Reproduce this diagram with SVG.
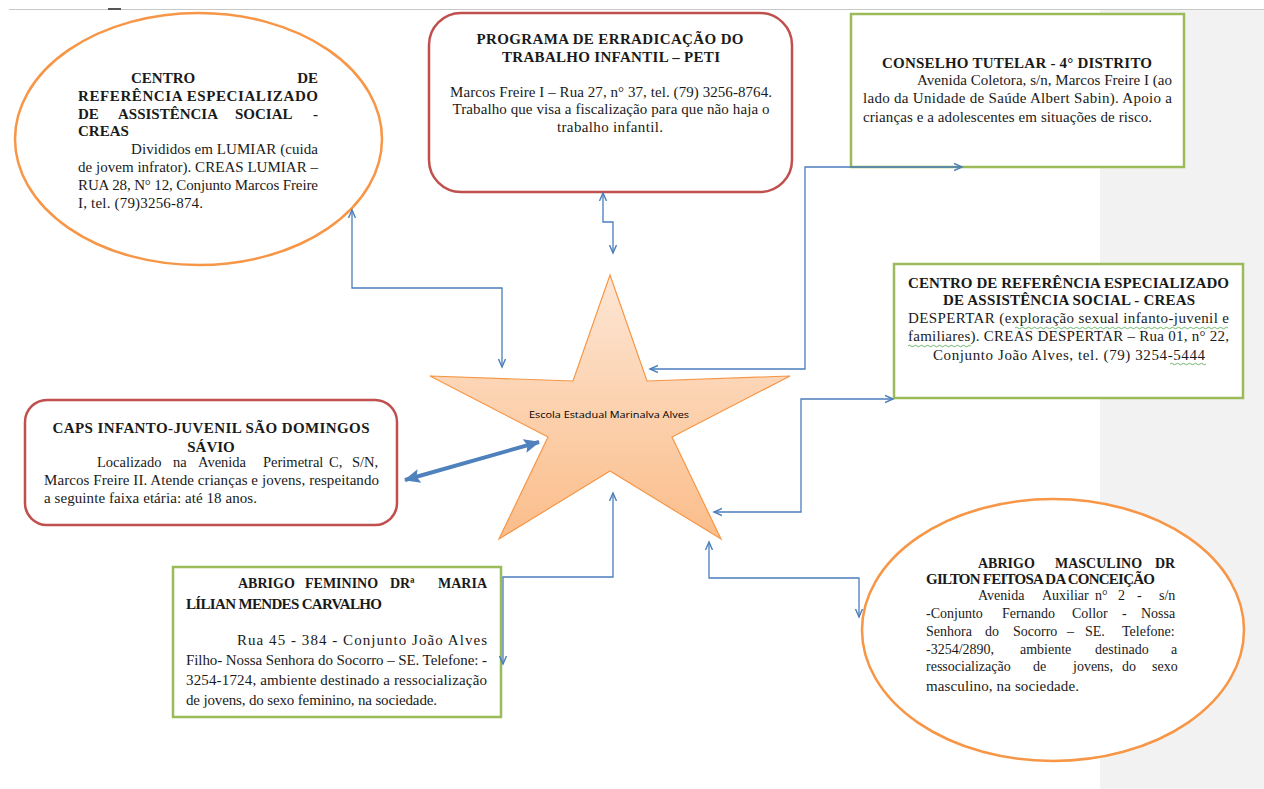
<svg xmlns="http://www.w3.org/2000/svg" width="1264" height="789" viewBox="0 0 1264 789">
<style>
.t{font-family:"Liberation Serif","Times New Roman",serif;font-size:15px;fill:#1a1a1a}
.s{font-size:14px}
.b{font-weight:bold}
.m{text-anchor:middle}
.e{text-anchor:end}
.oval{fill:#fff;stroke:#f79646;stroke-width:2.5}
.red{fill:#fff;stroke:#c0504d;stroke-width:2.5}
.grn{fill:#fff;stroke:#9bbb59;stroke-width:2.5}
.c{fill:none;stroke:#4a7ebb;stroke-width:1.3}
.sq{fill:none;stroke:#4ea24e;stroke-width:0.8}
</style>
<defs>
<marker id="ah" markerUnits="userSpaceOnUse" markerWidth="10" markerHeight="10" refX="8" refY="4" orient="auto-start-reverse" viewBox="0 0 10 8">
<path d="M0,0.5 L8,4 L0,7.5" fill="none" stroke="#4a7ebb" stroke-width="1.4"/>
</marker>
<marker id="big" markerUnits="userSpaceOnUse" markerWidth="18" markerHeight="16" refX="15" refY="7" orient="auto-start-reverse" viewBox="0 0 18 14">
<path d="M0,0 L16,7 L0,14 L3,7 Z" fill="#4f81bd"/>
</marker>
<linearGradient id="sg" x1="0" y1="0" x2="0" y2="1">
<stop offset="0" stop-color="#fde6d4"/>
<stop offset="1" stop-color="#fbbd8a"/>
</linearGradient>
</defs>

<rect width="1264" height="789" fill="#fff"/>
<rect x="1100" y="10" width="164" height="779" fill="#f2f2f2"/>
<line x1="9" y1="9.5" x2="1264" y2="9.5" stroke="#c8c8c8" stroke-width="1"/>
<rect x="108" y="8" width="13" height="2" fill="#555"/>

<g id="star">
<polygon points="610,275 647,381 790,376 672,437 721,539 610,471 499,539 548,437 430,376 573,381" fill="url(#sg)" stroke="#f79646" stroke-width="1.2"/>
<text x="609" y="418" text-anchor="middle" font-family="Open Sans, Liberation Sans, sans-serif" font-size="9.5" textLength="160" lengthAdjust="spacingAndGlyphs" fill="#000">Escola Estadual Marinalva Alves</text>
</g>

<g id="creas-lumiar">
<ellipse class="oval" cx="198.5" cy="139" rx="183.5" ry="126"/>
<text class="t b" x="131" y="83">CENTRO</text>
<text class="t b e" x="318" y="83">DE</text>
<text class="t b" x="78" y="101" textLength="240" lengthAdjust="spacing">REFERÊNCIA ESPECIALIZADO</text>
<text class="t b" y="119"><tspan x="78">DE</tspan><tspan x="118">ASSISTÊNCIA</tspan><tspan x="235">SOCIAL</tspan><tspan x="313">-</tspan></text>
<text class="t b" x="78" y="136">CREAS</text>
<text class="t" x="131" y="154" textLength="187" lengthAdjust="spacing">Divididos em LUMIAR (cuida</text>
<text class="t" x="78" y="172" textLength="240" lengthAdjust="spacing">de jovem infrator). CREAS LUMIAR –</text>
<text class="t" x="78" y="190" textLength="240" lengthAdjust="spacing">RUA 28, N° 12, Conjunto Marcos Freire</text>
<text class="t" x="78" y="208" textLength="125" lengthAdjust="spacing">I, tel. (79)3256-874.</text>
</g>

<g id="peti">
<rect class="red" x="429" y="13" width="363" height="179" rx="32"/>
<text class="t b m" x="610" y="44" textLength="267" lengthAdjust="spacing">PROGRAMA DE ERRADICAÇÃO DO</text>
<text class="t b m" x="611" y="62" textLength="218" lengthAdjust="spacing">TRABALHO INFANTIL – PETI</text>
<text class="t m" x="611" y="97" textLength="322" lengthAdjust="spacing">Marcos Freire I – Rua 27, n° 37, tel. (79) 3256-8764.</text>
<text class="t m" x="611" y="114" textLength="317" lengthAdjust="spacing">Trabalho que visa a fiscalização para que não haja o</text>
<text class="t m" x="610" y="132" textLength="106" lengthAdjust="spacing">trabalho infantil.</text>
</g>

<g id="conselho">
<rect class="grn" x="851" y="14" width="333" height="153"/>
<text class="t b" x="882" y="68" textLength="270" lengthAdjust="spacing">CONSELHO TUTELAR - 4° DISTRITO</text>
<text class="t" x="917" y="85" textLength="255" lengthAdjust="spacing">Avenida Coletora, s/n, Marcos Freire I (ao</text>
<text class="t" x="863" y="103" textLength="309" lengthAdjust="spacing">lado da Unidade de Saúde Albert Sabin). Apoio a</text>
<text class="t" x="863" y="122" textLength="289" lengthAdjust="spacing">crianças e a adolescentes em situações de risco.</text>
</g>

<g id="creas-despertar">
<rect class="grn" x="894" y="264" width="349" height="134"/>
<text class="t b" x="908" y="288" textLength="321" lengthAdjust="spacing">CENTRO DE REFERÊNCIA ESPECIALIZADO</text>
<text class="t b m" x="1069" y="305" textLength="252" lengthAdjust="spacing">DE ASSISTÊNCIA SOCIAL - CREAS</text>
<text class="t" x="908" y="323" textLength="321" lengthAdjust="spacing">DESPERTAR (exploração sexual infanto-juvenil e</text>
<text class="t" x="908" y="341" textLength="321" lengthAdjust="spacing">familiares). CREAS DESPERTAR – Rua 01, n° 22,</text>
<text class="t m" x="1069" y="360" textLength="272" lengthAdjust="spacing">Conjunto João Alves, tel. (79) 3254-5444</text>
<path class="sq" d="M1015,328 q1.5,-1.5 3,0 t3,0 t3,0 t3,0 t3,0 t3,0 t3,0 t3,0 t3,0 t3,0 t3,0 t3,0 t3,0 t3,0 t3,0 t3,0 t3,0 t3,0 t3,0 t3,0 t3,0 t3,0 t3,0 t3,0 t3,0 t3,0 t3,0 t3,0 t3,0 t3,0 t3,0 t3,0 t3,0 t3,0 t3,0 t3,0 t3,0 t3,0 t3,0 t3,0 t3,0 t3,0 t3,0 t3,0 t3,0 t3,0 t3,0 t3,0 t3,0 t3,0 t3,0 t3,0 t3,0 t3,0 t3,0 t3,0 t3,0 t3,0 t3,0 t3,0 t3,0 t3,0 t3,0 t3,0 t3,0 t3,0 t3,0 t3,0 t3,0 t3,0 t3,0"/>
<path class="sq" d="M908,346 q1.5,-1.5 3,0 t3,0 t3,0 t3,0 t3,0 t3,0 t3,0 t3,0 t3,0 t3,0 t3,0 t3,0 t3,0 t3,0 t3,0 t3,0 t3,0 t3,0 t3,0 t3,0 t3,0"/>
<path class="sq" d="M1170,364 q1.5,-1.5 3,0 t3,0 t3,0 t3,0 t3,0 t3,0 t3,0 t3,0 t3,0 t3,0 t3,0 t3,0"/>
</g>

<g id="caps">
<rect class="red" x="25" y="400" width="372" height="125" rx="22"/>
<text class="t b m" x="211" y="433" textLength="317" lengthAdjust="spacing">CAPS INFANTO-JUVENIL SÃO DOMINGOS</text>
<text class="t b m" x="211" y="452">SÁVIO</text>
<text class="t" y="467" style="font-size:14.5px"><tspan x="97">Localizado</tspan><tspan x="173">na</tspan><tspan x="198">Avenida</tspan><tspan x="263">Perimetral</tspan><tspan x="329">C,</tspan><tspan x="352">S/N,</tspan></text>
<text class="t" x="44" y="485" textLength="335" lengthAdjust="spacing">Marcos Freire II. Atende crianças e jovens, respeitando</text>
<text class="t" x="44" y="503" textLength="213" lengthAdjust="spacing">a seguinte faixa etária: até 18 anos.</text>
</g>

<g id="abrigo-feminino">
<rect class="grn" x="173" y="567" width="328" height="150"/>
<text class="t b s" y="588"><tspan x="238">ABRIGO</tspan><tspan x="305">FEMININO</tspan><tspan x="390">DRª</tspan><tspan x="438">MARIA</tspan></text>
<text class="t b" x="186" y="609" textLength="196" lengthAdjust="spacing">LÍLIAN MENDES CARVALHO</text>
<text class="t" x="237" y="645" textLength="250" lengthAdjust="spacing">Rua 45 - 384 - Conjunto João Alves</text>
<text class="t" x="186" y="665" textLength="301" lengthAdjust="spacing">Filho- Nossa Senhora do Socorro – SE. Telefone: -</text>
<text class="t" x="186" y="685" textLength="301" lengthAdjust="spacing">3254-1724, ambiente destinado a ressocialização</text>
<text class="t" x="186" y="705" textLength="251" lengthAdjust="spacing">de jovens, do sexo feminino, na sociedade.</text>
</g>

<g id="abrigo-masculino">
<ellipse class="oval" cx="1053" cy="630" rx="191" ry="131"/>
<text class="t b s" y="568"><tspan x="978">ABRIGO</tspan><tspan x="1055">MASCULINO</tspan><tspan x="1155">DR</tspan></text>
<text class="t b" x="926" y="584" textLength="229" lengthAdjust="spacing">GILTON FEITOSA DA CONCEIÇÃO</text>
<text class="t s" y="600"><tspan x="978">Avenida</tspan><tspan x="1042">Auxiliar</tspan><tspan x="1095">n°</tspan><tspan x="1118">2</tspan><tspan x="1137">-</tspan><tspan x="1159">s/n</tspan></text>
<text class="t s" y="618"><tspan x="926">-Conjunto</tspan><tspan x="1002">Fernando</tspan><tspan x="1072">Collor</tspan><tspan x="1122">-</tspan><tspan x="1141">Nossa</tspan></text>
<text class="t s" y="636"><tspan x="926">Senhora</tspan><tspan x="985">do</tspan><tspan x="1013">Socorro</tspan><tspan x="1067">–</tspan><tspan x="1085">SE.</tspan><tspan x="1122">Telefone:</tspan></text>
<text class="t s" y="654"><tspan x="926">-3254/2890,</tspan><tspan x="1020">ambiente</tspan><tspan x="1095">destinado</tspan><tspan x="1171">a</tspan></text>
<text class="t s" y="671"><tspan x="926">ressocialização</tspan><tspan x="1033">de</tspan><tspan x="1073">jovens,</tspan><tspan x="1122">do</tspan><tspan x="1152">sexo</tspan></text>
<text class="t" x="926" y="691" textLength="153" lengthAdjust="spacing">masculino, na sociedade.</text>
</g>

<g id="connectors">
<path class="c" d="M352,210 V288 H502 V367" marker-start="url(#ah)" marker-end="url(#ah)"/>
<path class="c" d="M603,193 V222 H613 V253" marker-start="url(#ah)" marker-end="url(#ah)"/>
<path class="c" d="M650,369 H805 V167 H962" marker-start="url(#ah)" marker-end="url(#ah)"/>
<path class="c" d="M714,512 H801 V399 H893" marker-start="url(#ah)" marker-end="url(#ah)"/>
<path class="c" d="M613,493 V577 H503 V664" marker-start="url(#ah)" marker-end="url(#ah)"/>
<path class="c" d="M709,542 V578 H859 V617" marker-start="url(#ah)" marker-end="url(#ah)"/>
<path d="M405,480 L539,442" fill="none" stroke="#4f81bd" stroke-width="4" marker-start="url(#big)" marker-end="url(#big)"/>
</g>
</svg>
